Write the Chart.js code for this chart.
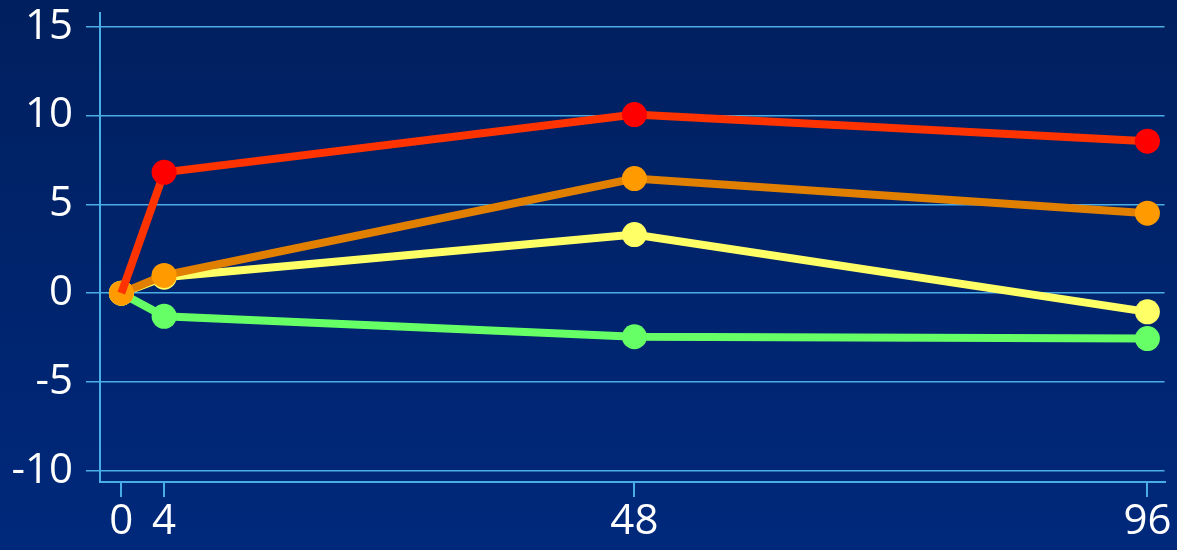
<!DOCTYPE html>
<html>
<head>
<meta charset="utf-8">
<script src="https://cdn.jsdelivr.net/npm/chart.js@4"></script>
<style>
    html, body { margin: 0; padding: 0; background: #00236a; }
    #wrap { width: 1177px; height: 550px; }
</style>
</head>
<body>
<div id="wrap"><canvas id="grafico"></canvas></div>
<script>
// horas
const horas = [0, 4, 48, 96]
const xTicks = [0, 4, 48, 96]
const yTicks = [-10, -5, 0, 5, 10, 15]

// séries
const serieVermelha = [0, 6.8, 10.05, 8.55]
const serieLaranja = [0, 1.0, 6.45, 4.5]
const serieAmarela = [0, 0.9, 3.3, -1.05]
const serieVerde = [0, -1.3, -2.45, -2.55]

const pontos = valores => horas.map((h, i) => ({ x: h, y: valores[i] }))

// fundo em degradê
const fundo = {
    id: 'fundo',
    beforeDraw(chart) {
        const { ctx, width, height } = chart
        const g = ctx.createLinearGradient(0, 0, 0, height)
        g.addColorStop(0, '#001f5e')
        g.addColorStop(1, '#00297c')
        ctx.save()
        ctx.fillStyle = g
        ctx.fillRect(0, 0, width, height)
        ctx.restore()
    }
}

const serie = (valores, linha, ponto, raios) => ({
    data: pontos(valores),
    borderColor: linha,
    backgroundColor: ponto,
    pointBackgroundColor: ponto,
    borderWidth: 8,
    pointRadius: raios || 12.5,
    pointBorderWidth: 0,
    pointHoverRadius: 12.5,
    tension: 0
})

const azul = '#4aaee6'

new Chart(document.getElementById('grafico').getContext('2d'), {
    type: 'line',
    data: {
        datasets: [
            serie(serieVermelha, '#ff3300', '#ff0000', [0, 12.5, 12.5, 12.5]),
            serie(serieLaranja, '#e07f00', '#ff9a00'),
            serie(serieAmarela, '#ffff66', '#ffff66'),
            serie(serieVerde, '#66ff66', '#66ff66')
        ]
    },
    options: {
        responsive: true,
        maintainAspectRatio: false,
        animation: false,
        layout: { padding: { top: 3, right: 11, left: 0, bottom: 0 } },
        plugins: { legend: { display: false }, tooltip: { enabled: false } },
        scales: {
            x: {
                type: 'linear',
                min: -2,
                max: 97.6,
                afterBuildTicks: ax => { ax.ticks = xTicks.map(v => ({ value: v })) },
                afterFit: ax => { ax.height = 68; ax.paddingLeft = 0; ax.paddingRight = 0 },
                grid: { drawOnChartArea: false, color: azul, tickLength: 15, lineWidth: 2 },
                border: { color: azul, width: 2 },
                ticks: {
                    color: '#ffffff',
                    font: { family: 'Open Sans', size: 42 },
                    padding: 0,
                    maxRotation: 0,
                    autoSkip: false
                }
            },
            y: {
                min: -10.62,
                max: 15.79,
                afterBuildTicks: ax => { ax.ticks = yTicks.map(v => ({ value: v })) },
                afterFit: ax => { ax.width = 100; ax.paddingTop = 0; ax.paddingBottom = 0 },
                grid: { color: azul, tickLength: 14, lineWidth: 1.5 },
                border: { color: azul, width: 2 },
                ticks: {
                    color: '#ffffff',
                    font: { family: 'Open Sans', size: 42 },
                    padding: 13
                }
            }
        }
    },
    plugins: [fundo]
})
</script>
</body>
</html>
